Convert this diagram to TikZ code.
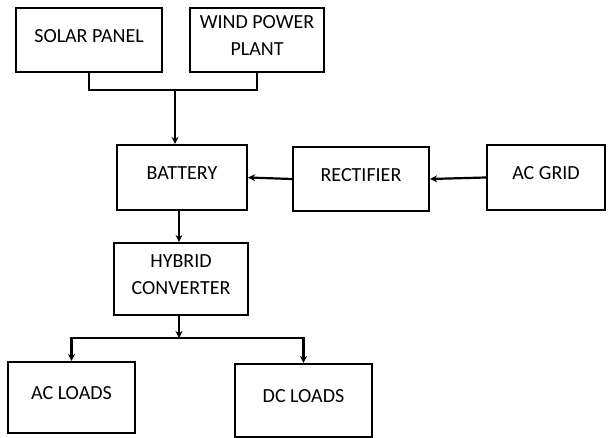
\documentclass[tikz,border=0pt]{standalone}
\usepackage{fontspec}
\setmainfont{Carlito}
\usetikzlibrary{arrows.meta, positioning}

\begin{document}
\begin{tikzpicture}[
    x=1pt, y=-1pt,
    block/.style={rectangle, draw=black, line width=2.2pt, align=center, font=\fontsize{20}{27}\selectfont, text depth=8pt, inner sep=2pt},
    arrow/.style={-{Stealth[length=7pt, width=7pt]}, line width=2.2pt, draw=black},
    wire/.style={line width=2.2pt, draw=black}
]
    \useasboundingbox (0,0) rectangle (608,438);

    \node[block, minimum width=146pt, minimum height=64pt] (solar) at (89,40) {SOLAR PANEL};
    \node[block, minimum width=134pt, minimum height=64pt] (wind) at (257,40) {WIND POWER\\PLANT};
    \node[block, minimum width=130pt, minimum height=65pt] (battery) at (182,177.5) {BATTERY};
    \node[block, minimum width=136pt, minimum height=64pt] (rectifier) at (361,179) {RECTIFIER};
    \node[block, minimum width=118pt, minimum height=65pt] (acgrid) at (546,177.5) {AC GRID};
    \node[block, minimum width=134pt, minimum height=72pt] (hybrid) at (181,279) {HYBRID\\CONVERTER};
    \node[block, minimum width=127pt, minimum height=71pt] (acloads) at (71.5,397.5) {AC LOADS};
    \node[block, minimum width=137pt, minimum height=73pt] (dcloads) at (303.5,400.5) {DC LOADS};

    \coordinate (topjoin) at (175,90);
    \coordinate (botjoin) at (179,338);

    % sources to battery
    \draw[wire] (solar.south) -- (solar.south |- topjoin) -- (wind.south |- topjoin) -- (wind.south);
    \draw[arrow] (topjoin) -- (topjoin |- battery.north);

    % charging path
    \draw[arrow] (acgrid.west) -- (rectifier.east);
    \draw[arrow] (rectifier.west) -- (battery.east);

    % battery to loads
    \draw[arrow] (botjoin |- battery.south) -- (botjoin |- hybrid.north);
    \draw[arrow] (botjoin |- hybrid.south) -- (botjoin);
    \draw[arrow] (botjoin) -| (acloads.north);
    \draw[arrow] (botjoin) -| (dcloads.north);
\end{tikzpicture}
\end{document}
